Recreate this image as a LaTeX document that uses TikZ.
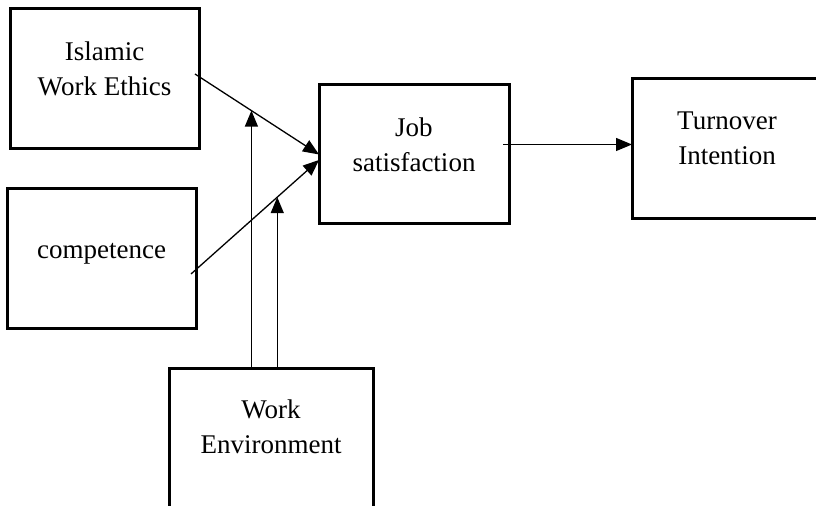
\documentclass[tikz,border=0pt]{standalone}
\usepackage{fontspec}
\setmainfont{Liberation Serif}
\usetikzlibrary{positioning,arrows.meta}

\tikzset{
  box/.style={draw, line width=1.5pt, anchor=north west, inner sep=0pt, outer sep=0pt},
  lbl/.style={anchor=north, inner sep=0pt, align=center,
    font=\fontsize{13.5}{17.5}\selectfont},
  arr/.style={line width=0.65pt, -{Triangle[length=8pt,width=6.5pt]}}
}

\begin{document}
\begin{tikzpicture}[x=0.5pt,y=-0.5pt]
  \useasboundingbox (0,0) rectangle (816,506);
  \clip (0,0) rectangle (816,506);

  \node[box, minimum width=94.5pt, minimum height=70pt] (iwe) at (10,9) {};
  \node[box, minimum width=94.5pt, minimum height=70pt] (comp) at (7,189) {};
  \node[box, minimum width=95pt, minimum height=69.5pt] (job) at (319,85) {};
  \node[box, minimum width=95pt, minimum height=70pt] (turn) at (632,79) {};
  \node[box, minimum width=102pt, minimum height=80pt] (env) at (169,369) {};

  \node[lbl, below=15.5pt of iwe.north] (iwetext) {\rule{0pt}{10pt}Islamic\\Work Ethics};
  \node[lbl, below=24.5pt of comp.north] (comptext) {\rule{0pt}{10pt}competence};
  \node[lbl, below=15.5pt of job.north] (jobtext) {\rule{0pt}{10pt}Job\\satisfaction};
  \node[lbl, below=15pt of turn.north] (turntext) {\rule{0pt}{10pt}Turnover\\Intention};
  \node[lbl, below=14.5pt of env.north] (envtext) {\rule{0pt}{10pt}Work\\Environment};

  % into job satisfaction
  \draw[arr] ([xshift=-2pt,yshift=2.5pt]iwe.east) -- coordinate[pos=0.455] (m1) (job.west);
  \draw[arr] ([xshift=-2.5pt,yshift=-7.5pt]comp.east) -- coordinate[pos=0.674] (m2) ([yshift=-2.75pt]job.west);

  % work environment
  \draw[arr] (env.north -| m1) -- (m1);
  \draw[arr] (env.north -| m2) -- (m2);

  \draw[arr] ([xshift=-3pt,yshift=5pt]job.east) -- ([yshift=5pt]job.east -| turn.west);
\end{tikzpicture}
\end{document}
